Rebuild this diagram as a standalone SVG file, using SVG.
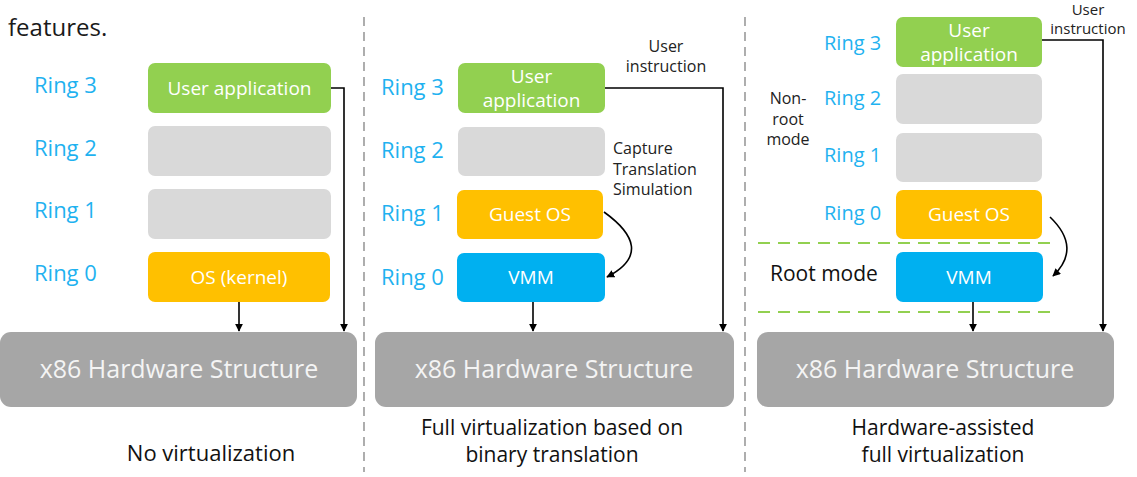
<svg xmlns="http://www.w3.org/2000/svg" width="1137" height="477" viewBox="0 0 1137 477">
<defs>
<marker id="ah" viewBox="0 0 10 10" refX="9" refY="5" markerWidth="8" markerHeight="8" markerUnits="userSpaceOnUse" orient="auto">
<path d="M0,0 L10,5 L0,10 z" fill="#000"/>
</marker>
<style>
text{font-family:"Open Sans","Noto Sans","DejaVu Sans",sans-serif}
.ring{fill:#1fb2f0;font-size:22px}
.bt{fill:#fff;font-size:19px;text-anchor:middle}
.hw{fill:#a6a6a6}
.hwt{fill:#f4f4f4;font-size:25px;text-anchor:middle}
.cap{fill:#111;font-size:21px;text-anchor:middle}
.lbl{fill:#222;font-size:16px}
.g{fill:#92d050}.e{fill:#d9d9d9}.o{fill:#ffc000}.b{fill:#00b0f0}
.conn{stroke:#000;stroke-width:1.6;fill:none}
.div{stroke:#9a9a9a;stroke-width:1.6;stroke-dasharray:9 6;fill:none}
.gd{stroke:#92d050;stroke-width:2;stroke-dasharray:12 8;fill:none}
</style>
</defs>
<rect width="1137" height="477" fill="#fff"/>
<text x="8" y="36" style="font-size:24px;fill:#1a1a1a">features.</text>
<g id="dividers">
<line class="div" x1="364" y1="17" x2="364" y2="472"/>
<line class="div" x1="745" y1="17" x2="745" y2="472"/>
<line class="gd" x1="758" y1="243" x2="1052" y2="243"/>
<line class="gd" x1="758" y1="312" x2="1052" y2="312"/>
</g>
<!-- Panel 1 -->
<g id="p1-labels">
<text class="ring" x="34" y="93">Ring 3</text>
<text class="ring" x="34" y="156">Ring 2</text>
<text class="ring" x="34" y="218">Ring 1</text>
<text class="ring" x="34" y="281">Ring 0</text>
<text class="cap" x="211" y="461" style="font-size:22px">No virtualization</text>
</g>
<g id="p1-user"><rect class="g" x="148" y="63" width="183" height="50" rx="7"/><text class="bt" x="239.5" y="95">User application</text></g>
<g id="p1-ring2"><rect class="e" x="148" y="126" width="183" height="50" rx="7"/></g>
<g id="p1-ring1"><rect class="e" x="148" y="189" width="183" height="50" rx="7"/></g>
<g id="p1-os"><rect class="o" x="148" y="252" width="182" height="50" rx="7"/><text class="bt" x="239" y="284">OS (kernel)</text></g>
<g id="p1-hw"><rect class="hw" x="0" y="332" width="357" height="75" rx="11"/><text class="hwt" x="179" y="378">x86 Hardware Structure</text></g>
<!-- Panel 2 -->
<g id="p2-labels">
<text class="ring" x="381" y="95">Ring 3</text>
<text class="ring" x="381" y="158">Ring 2</text>
<text class="ring" x="381" y="221">Ring 1</text>
<text class="ring" x="381" y="285">Ring 0</text>
<text class="lbl" x="666" y="52" text-anchor="middle">User</text>
<text class="lbl" x="666" y="72" text-anchor="middle">instruction</text>
<text class="lbl" x="613" y="154">Capture</text>
<text class="lbl" x="613" y="174.5">Translation</text>
<text class="lbl" x="613" y="195">Simulation</text>
<text class="cap" x="552" y="435">Full virtualization based on</text>
<text class="cap" x="552" y="462">binary translation</text>
</g>
<g id="p2-user"><rect class="g" x="458" y="63" width="147" height="50" rx="7"/><text class="bt" x="531.5" y="83">User</text><text class="bt" x="531.5" y="107">application</text></g>
<g id="p2-ring2"><rect class="e" x="458" y="127" width="147" height="49" rx="7"/></g>
<g id="p2-guest"><rect class="o" x="457" y="190" width="146" height="49" rx="7"/><text class="bt" x="530" y="221">Guest OS</text></g>
<g id="p2-vmm"><rect class="b" x="457" y="253" width="148" height="49" rx="7"/><text class="bt" x="531" y="284">VMM</text></g>
<g id="p2-hw"><rect class="hw" x="375" y="332" width="359" height="75" rx="11"/><text class="hwt" x="554" y="378">x86 Hardware Structure</text></g>
<!-- Panel 3 -->
<g id="p3-labels">
<text class="ring" x="824" y="50" style="font-size:20px">Ring 3</text>
<text class="ring" x="824" y="105" style="font-size:20px">Ring 2</text>
<text class="ring" x="824" y="162" style="font-size:20px">Ring 1</text>
<text class="ring" x="824" y="220" style="font-size:20px">Ring 0</text>
<text class="lbl" x="788" y="104" text-anchor="middle">Non-</text>
<text class="lbl" x="788" y="125" text-anchor="middle">root</text>
<text class="lbl" x="788" y="145" text-anchor="middle">mode</text>
<text x="770" y="281" style="font-size:21px;fill:#111">Root mode</text>
<text class="lbl" x="1088" y="15" text-anchor="middle" style="font-size:15px">User</text>
<text class="lbl" x="1088" y="34" text-anchor="middle" style="font-size:15px">instruction</text>
<text class="cap" x="943" y="435">Hardware-assisted</text>
<text class="cap" x="943" y="462">full virtualization</text>
</g>
<g id="p3-user"><rect class="g" x="896" y="17" width="146" height="50" rx="7"/><text class="bt" x="969" y="37">User</text><text class="bt" x="969" y="61">application</text></g>
<g id="p3-ring2"><rect class="e" x="896" y="74" width="146" height="50" rx="7"/></g>
<g id="p3-ring1"><rect class="e" x="896" y="133" width="146" height="49" rx="7"/></g>
<g id="p3-guest"><rect class="o" x="896" y="190" width="146" height="49" rx="7"/><text class="bt" x="969" y="221">Guest OS</text></g>
<g id="p3-vmm"><rect class="b" x="896" y="252" width="147" height="50" rx="7"/><text class="bt" x="969" y="284">VMM</text></g>
<g id="p3-hw"><rect class="hw" x="757" y="332" width="357" height="75" rx="11"/><text class="hwt" x="935" y="378">x86 Hardware Structure</text></g>
<g id="connectors">
<path class="conn" d="M239,302 V331" marker-end="url(#ah)"/>
<path class="conn" d="M331,88 H344 V331" marker-end="url(#ah)"/>
<path class="conn" d="M533,302 V331" marker-end="url(#ah)"/>
<path class="conn" d="M605,88 H723 V331" marker-end="url(#ah)"/>
<path class="conn" d="M604,212 C636,235 644,258 607,277" marker-end="url(#ah)"/>
<path class="conn" d="M973,302 V331" marker-end="url(#ah)"/>
<path class="conn" d="M1042,40 H1103 V331" marker-end="url(#ah)"/>
<path class="conn" d="M1050,217 C1072,238 1072,258 1053,276" marker-end="url(#ah)"/>
</g>
</svg>
